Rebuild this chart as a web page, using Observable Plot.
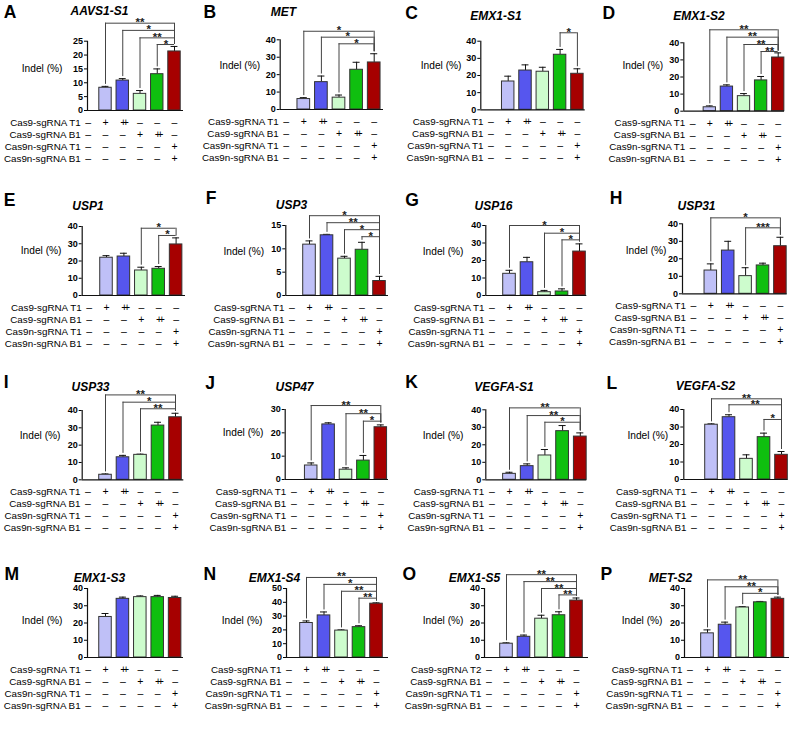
<!DOCTYPE html>
<html><head><meta charset="utf-8">
<script src="https://cdn.jsdelivr.net/npm/d3@7"></script>
<script src="https://cdn.jsdelivr.net/npm/@observablehq/plot@0.6"></script>
<style>
body{margin:0;background:#fff;}
#fig{position:relative;width:796px;height:740px;background:#fff;overflow:hidden;}
#fig svg{position:absolute;overflow:visible;}
</style></head><body><div id="fig"></div>
<script>
// ---- data ----
const panelLetters = ["A","B","C","D","E","F","G","H","I","J","K","L","M","N","O","P"];
const panelTitles = ["AAVS1-S1","MET","EMX1-S1","EMX1-S2","USP1","USP3","USP16","USP31","USP33","USP47","VEGFA-S1","VEGFA-S2","EMX1-S3","EMX1-S4","EMX1-S5","MET-S2"];
const yLabel = "Indel (%)";
const yMaxes = [25,40,40,40,40,15,40,40,40,30,40,40,40,50,40,40];
const yTickSteps = [5,10,10,10,10,5,10,10,10,10,10,10,10,10,10,10];
const indelMeans = [
  [0, 8.2, 10.8, 6.0, 13.1, 21.3],
  [0, 6.0, 15.7, 6.8, 22.8, 27.0],
  [0, 16.5, 22.9, 22.2, 32.1, 21.0],
  [0, 2.3, 14.4, 8.8, 18.0, 31.4],
  [0, 21.9, 22.6, 14.5, 15.5, 29.6],
  [0, 10.9, 12.9, 7.9, 9.8, 3.1],
  [0, 12.4, 19.0, 1.9, 2.3, 25.1],
  [0, 13.3, 24.7, 10.1, 16.2, 27.2],
  [0, 2.9, 13.0, 14.4, 31.3, 36.1],
  [0, 6.0, 23.6, 4.2, 8.1, 22.4],
  [0, 3.4, 7.8, 13.9, 27.8, 24.7],
  [0, 31.3, 35.6, 11.8, 24.2, 14.1],
  [0, 23.5, 34.0, 35.0, 35.0, 34.5],
  [0, 25.0, 30.5, 19.5, 22.0, 39.0],
  [0, 8.0, 12.0, 22.5, 24.5, 33.0],
  [0, 14.0, 19.0, 29.0, 32.0, 34.0]
];
const indelErrors = [
  [0, 0.5, 0.7, 1.2, 1.9, 1.8],
  [0, 0.8, 3.5, 1.5, 4.3, 5.0],
  [0, 3.1, 3.3, 2.6, 3.1, 2.9],
  [0, 0.8, 1.0, 1.5, 2.3, 2.7],
  [0, 1.2, 1.9, 1.9, 1.3, 3.8],
  [0, 0.8, 0.2, 0.5, 1.6, 1.0],
  [0, 2.0, 2.8, 1.0, 1.5, 4.4],
  [0, 3.8, 5.3, 4.8, 1.3, 5.1],
  [0, 0.5, 1.1, 0.4, 1.9, 2.3],
  [0, 1.1, 0.7, 0.8, 2.2, 1.0],
  [0, 0.9, 1.3, 3.4, 3.2, 2.1],
  [0, 0.5, 1.4, 2.3, 2.3, 1.9],
  [0, 2.0, 1.0, 0.7, 1.0, 1.0],
  [0, 1.5, 2.5, 0.5, 1.0, 0.6],
  [0, 0.5, 1.0, 2.0, 2.0, 1.5],
  [0, 2.0, 1.5, 0.5, 0.5, 1.0]
];
// significance brackets: [from bar, to bar, bracket height (Indel %), label]
const brackets = [
  [[1,5,31.5,"**"],[2,5,28.9,"*"],[3,5,26.2,"**"],[4,5,23.8,"*"]],
  [[1,5,44.9,"*"],[2,5,41.5,"*"],[3,5,37.7,"*"]],
  [[4,5,44.9,"*"]],
  [[1,5,47.6,"**"],[2,5,43.3,"**"],[3,5,39.0,"**"],[4,5,34.9,"**"]],
  [[3,5,39.0,"*"],[4,5,34.8,"*"]],
  [[1,5,17.1,"*"],[2,5,15.6,"**"],[3,5,14.1,"*"],[4,5,12.6,"*"]],
  [[1,5,40.0,"*"],[3,5,35.6,"*"],[4,5,31.8,"*"]],
  [[1,5,43.4,"*"],[3,5,37.7,"***"]],
  [[1,5,49.0,"**"],[2,5,44.8,"*"],[3,5,41.0,"**"]],
  [[1,5,31.7,"**"],[3,5,28.2,"**"],[4,5,25.0,"*"]],
  [[1,5,41.1,"**"],[2,5,36.7,"**"],[3,5,32.9,"*"]],
  [[1,5,46.1,"**"],[2,5,42.7,"**"],[4,5,34.3,"*"]],
  [],
  [[1,5,58,"**"],[2,5,53,"*"],[3,5,48,"**"],[4,5,43,"**"]],
  [[1,5,48,"**"],[2,5,44,"**"],[3,5,40,"**"],[4,5,36.3,"**"]],
  [[1,5,45,"**"],[2,5,41,"**"],[3,5,37.2,"*"]]
];
const rowLabels = ["Cas9-sgRNA T1","Cas9-sgRNA B1","Cas9n-sgRNA T1","Cas9n-sgRNA B1"];
const rowLabelsPanelO = ["Cas9-sgRNA T2","Cas9-sgRNA B1","Cas9n-sgRNA T1","Cas9n-sgRNA B1"];
const conditionMarks = [
  ["–","+","++","–","–","–"],
  ["–","–","–","+","++","–"],
  ["–","–","–","–","–","+"],
  ["–","–","–","–","–","+"]
];
const barColors = ["#bfc0f7","#5656ee","#cdfccd","#0fbf0f","#a60000"];

// ---- layout (pixels inside each panel) ----
// axisX, bar1X, step, axisEnd, y0, yTop, labelEnd, labelY, titleX, titleBase, letterX, letterBase
const layout = [
  [87,105,17.25,183,110,40.7,62,68,99,14,3.3,17],
  [81.7,105.3,17.6,185,109,39.3,61.7,65,85,15,5,17],
  [82.3,109.7,17.3,186.7,109.3,40.7,63,65,97.5,19.5,6.7,18.5],
  [87.3,113.3,17.1,188,110.7,42.3,66.7,65,102.5,19,6,18.5],
  [81.7,106,17.4,185,110,41,61,65.7,87.5,24,3.3,20],
  [87.3,111,17.5,190,110,40,65.7,66,93,23,7.3,18.5],
  [87.3,111,17.5,188.3,110,40,65,66,95,24.5,6.7,20],
  [86,114.3,17.4,190.7,108.3,38.3,70,65,100,24,13.3,18.5],
  [81.7,105,17.5,183.3,109.3,40,60,65,90,20,3.3,17],
  [86.7,112.7,17.4,190,109,39,65,62.3,96,20,6.7,18.5],
  [87.3,111,17.7,188.3,109.3,39.3,65,65,105.5,20.7,6.7,17],
  [87.3,115,17.5,191.7,109,39,71.7,65,109,19.5,10,18.5],
  [87,105,17.4,183,102,33,62,65,99,26,4,24],
  [88,108,17.5,190,102,33,64,65,76,26,5,24],
  [86,108,17.5,190,102,33,65,65,76,26,4,24],
  [88,111,17.6,193,102,33,66,65,74,26,4,24]
];
const colX = [0,198,398,596];
const rowY = [0,185,370,555];
const PW = 200, PH = 185;
const FONT = '"Liberation Sans", Arial, Helvetica, sans-serif';

const fig = document.getElementById("fig");

panelLetters.forEach((letter, k) => {
  const [axisX, bar1X, step, axisEnd, y0, yTop, labelEnd, labelY, titleX, titleBase, letterX, letterBase] = layout[k];
  const d0 = 1 - (bar1X - axisX) / step;
  const d1 = d0 + (axisEnd - axisX) / step;
  const yMax = yMaxes[k];
  const pxPerUnit = (y0 - yTop) / yMax;
  const gap = 2 / pxPerUnit;
  const bars = indelMeans[k].map((v, i) => ({i, v, e: indelErrors[k][i]}));
  const shown = bars.filter(d => d.i > 0);
  const br = brackets[k].map(([a, b, lvl, lab]) => ({a, b, lvl, lab,
    ya: bars[a].v + bars[a].e + gap, yb: bars[b].v + bars[b].e + gap}));
  const labels = k === 14 ? rowLabelsPanelO : rowLabels;

  const tableMarks = [];
  conditionMarks.forEach((row, r) => {
    const rowData = row.map((m, i) => ({i, m}));
    tableMarks.push(Plot.text(rowData, {x: "i", text: "m", frameAnchor: "bottom", dy: 12 * (r + 1),
      lineAnchor: "middle", fontSize: 10.5, fontWeight: "normal", fill: "#000"}));
    tableMarks.push(Plot.text([labels[r]], {x: () => 0, text: d => d, frameAnchor: "bottom", dy: 12 * (r + 1),
      dx: -7.5, textAnchor: "end", lineAnchor: "middle", fontSize: 9.8, fontWeight: "normal", fill: "#000"}));
  });

  const svg = Plot.plot({
    width: PW, height: PH,
    marginLeft: axisX, marginRight: PW - axisEnd, marginTop: yTop, marginBottom: PH - y0,
    x: {type: "linear", domain: [d0, d1], axis: null},
    y: {domain: [0, yMax], ticks: d3.range(0, yMax + 0.001, yTickSteps[k]), tickSize: 3, tickPadding: 1.5, label: null, tickFormat: d => String(d)},
    color: {type: "ordinal", domain: [1, 2, 3, 4, 5], range: barColors},
    style: {fontSize: "9px", fontWeight: "bold", fontFamily: FONT, background: "transparent", color: "#000", overflow: "visible"},
    marks: [
      Plot.ruleX(shown, {x: "i", y1: "v", y2: d => d.v + d.e, stroke: "#111", strokeWidth: 1}),
      Plot.ruleY(shown, {y: d => d.v + d.e, x1: d => d.i - 0.2, x2: d => d.i + 0.2, stroke: "#111", strokeWidth: 1}),
      Plot.rect(shown, {x1: d => d.i - 0.36, x2: d => d.i + 0.36, y1: 0, y2: "v", fill: "i", stroke: "#333", strokeWidth: 1}),
      Plot.ruleY([0], {stroke: "#111", strokeWidth: 1.2}),
      Plot.ruleX([d0], {y1: 0, y2: yMax, stroke: "#111", strokeWidth: 1.2}),
      Plot.ruleX(br, {x: "a", y1: "ya", y2: "lvl", stroke: "#444", strokeWidth: 1}),
      Plot.ruleX(br, {x: "b", y1: "yb", y2: "lvl", stroke: "#444", strokeWidth: 1}),
      Plot.ruleY(br, {y: "lvl", x1: "a", x2: "b", stroke: "#444", strokeWidth: 1}),
      Plot.text(br, {x: d => (d.a + d.b) / 2, y: "lvl", text: "lab", dy: 3, lineAnchor: "bottom", fontSize: 11.5, fontWeight: "bold", fill: "#222"}),
      Plot.text([yLabel], {frameAnchor: "top-left", dx: labelEnd - axisX, dy: labelY - yTop, textAnchor: "end", lineAnchor: "middle", fontSize: 10.2, fontWeight: "normal", fill: "#000"}),
      Plot.text([panelTitles[k]], {frameAnchor: "top-left", dx: titleX - axisX, dy: titleBase - yTop, textAnchor: "middle", lineAnchor: "bottom", fontSize: 12, fontWeight: "bold", fontStyle: "italic", fill: "#000", ariaLabel: "panel-title"}),
      Plot.text([letter], {frameAnchor: "top-left", dx: letterX - axisX, dy: letterBase - yTop, textAnchor: "start", lineAnchor: "bottom", fontSize: 17.5, fontWeight: "bold", fill: "#000"}),
      ...tableMarks
    ]
  });
  const r = Math.floor(k / 4), c = k % 4;
  svg.style.left = colX[c] + "px";
  svg.style.top = rowY[r] + "px";
  d3.select(svg).selectAll('g[aria-label="panel-title"] text').style("text-decoration", "underline");
  d3.select(svg).selectAll("text").filter(function() { return this.textContent === "++"; }).attr("letter-spacing", "-3.5");
  fig.appendChild(svg);
});
</script></body></html>
